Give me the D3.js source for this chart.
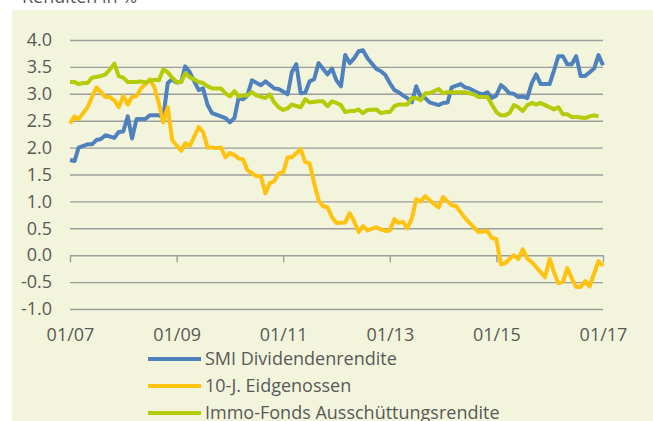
<!DOCTYPE html>
<html lang="de">
<head>
<meta charset="UTF-8">
<title>Renditen</title>
<script src="https://d3js.org/d3.v7.min.js"></script>
<style>
  body { margin: 0; background: #fff; }
  text { font-family: "Open Sans", sans-serif; fill: #595959; }
</style>
</head>
<body>
<script>
// --- data ---
var smiDates = ["2007-01","2007-02","2007-03","2007-05","2007-06","2007-07","2007-08","2007-09","2007-11","2007-12",
  "2008-01","2008-02","2008-03","2008-04","2008-06","2008-07","2008-09","2008-10","2008-11","2008-12",
  "2009-01","2009-02","2009-03","2009-04","2009-06","2009-07","2009-08","2009-09","2009-11","2009-12",
  "2010-01","2010-02","2010-03","2010-04","2010-05","2010-06","2010-08","2010-09","2010-11","2010-12",
  "2011-02","2011-03","2011-04","2011-05","2011-06","2011-07","2011-08","2011-09","2011-11","2011-12",
  "2012-01","2012-02","2012-03","2012-04","2012-05","2012-06","2012-07","2012-08","2012-10","2012-11","2012-12",
  "2013-01","2013-02","2013-03","2013-04","2013-05","2013-06","2013-07","2013-08","2013-09","2013-10","2013-12",
  "2014-01","2014-02","2014-03","2014-05","2014-06","2014-07","2014-09","2014-10","2014-11","2014-12",
  "2015-01","2015-02","2015-03","2015-04","2015-05","2015-06","2015-07","2015-08","2015-09","2015-10","2015-11",
  "2016-01","2016-02","2016-03","2016-04","2016-05","2016-06","2016-07","2016-08","2016-09","2016-10","2016-11","2016-12",
  "2017-01"];
var smiValues = [1.77,1.75,2.00,2.06,2.06,2.14,2.16,2.23,2.18,2.29,
  2.30,2.58,2.17,2.53,2.53,2.60,2.60,2.56,3.20,3.27,
  3.21,3.22,3.51,3.40,3.07,3.10,2.79,2.64,2.58,2.55,
  2.47,2.55,2.92,2.90,2.97,3.25,3.16,3.23,3.10,3.09,
  2.99,3.40,3.55,3.01,3.02,3.23,3.27,3.57,3.36,3.47,
  3.25,3.14,3.72,3.57,3.66,3.79,3.81,3.66,3.46,3.42,3.35,
  3.20,3.07,3.03,2.97,2.92,2.84,3.14,2.94,2.92,2.84,2.79,
  2.83,2.84,3.12,3.18,3.12,3.10,3.01,2.99,3.03,2.92,
  2.97,3.16,3.10,3.01,3.00,2.94,2.95,2.92,3.20,3.36,3.18,
  3.18,3.44,3.70,3.70,3.55,3.55,3.70,3.33,3.33,3.40,3.47,3.72,
  3.53];

var bondDates = ["2007-01","2007-02","2007-03","2007-05","2007-06","2007-07","2007-08","2007-09","2007-10","2007-11","2007-12",
  "2008-01","2008-02","2008-03","2008-04","2008-05","2008-06","2008-07","2008-08","2008-09","2008-10","2008-11","2008-12",
  "2009-01","2009-02","2009-03","2009-04","2009-06","2009-07","2009-08","2009-09","2009-10","2009-11","2009-12",
  "2010-01","2010-02","2010-03","2010-04","2010-05","2010-07","2010-08","2010-09","2010-10","2010-11","2010-12",
  "2011-01","2011-02","2011-03","2011-05","2011-06","2011-07","2011-08","2011-09","2011-10","2011-11","2011-12",
  "2012-01","2012-03","2012-04","2012-05","2012-06","2012-07","2012-08","2012-10","2012-11","2012-12",
  "2013-01","2013-02","2013-03","2013-04","2013-05","2013-06","2013-07","2013-08","2013-09","2013-10","2013-12",
  "2014-01","2014-02","2014-03","2014-04","2014-06","2014-07","2014-09","2014-11","2014-12",
  "2015-01","2015-02","2015-03","2015-04","2015-05","2015-06","2015-07","2015-08","2015-09","2015-10","2015-12",
  "2016-01","2016-02","2016-03","2016-04","2016-05","2016-06","2016-07","2016-08","2016-09","2016-10","2016-11","2016-12",
  "2017-01"];
var bondValues = [2.45,2.58,2.53,2.75,2.94,3.12,3.03,2.94,2.94,2.88,2.75,
  2.96,2.80,2.94,2.96,3.10,3.18,3.27,3.12,2.82,2.47,2.75,2.14,
  2.04,1.94,2.08,2.03,2.38,2.29,2.00,2.00,1.99,2.00,1.82,
  1.90,1.86,1.80,1.78,1.58,1.47,1.47,1.15,1.34,1.38,1.52,
  1.54,1.82,1.82,1.97,1.73,1.71,1.34,1.02,0.91,0.89,0.71,
  0.60,0.61,0.78,0.63,0.43,0.54,0.46,0.52,0.48,0.45,
  0.46,0.67,0.60,0.62,0.50,0.69,1.04,1.00,1.10,1.02,0.89,
  1.08,1.00,0.93,0.91,0.69,0.60,0.43,0.45,0.32,
  0.30,-0.17,-0.15,-0.07,0.00,-0.07,0.11,-0.06,-0.13,-0.22,-0.41,
  -0.07,-0.32,-0.52,-0.50,-0.24,-0.43,-0.59,-0.59,-0.48,-0.58,-0.34,-0.11,
  -0.20];

var immoDates = ["2007-01","2007-02","2007-03","2007-04","2007-05","2007-06","2007-08","2007-09","2007-10","2007-11","2007-12",
  "2008-01","2008-02","2008-04","2008-05","2008-06","2008-07","2008-08","2008-09","2008-10","2008-11","2008-12",
  "2009-01","2009-02","2009-03","2009-04","2009-06","2009-07","2009-08","2009-09","2009-11","2009-12",
  "2010-01","2010-02","2010-03","2010-04","2010-05","2010-06","2010-07","2010-09","2010-10","2010-11","2010-12",
  "2011-01","2011-02","2011-03","2011-05","2011-06","2011-07","2011-09","2011-10","2011-11","2011-12",
  "2012-01","2012-02","2012-03","2012-04","2012-05","2012-06","2012-07","2012-08","2012-10","2012-11","2012-12",
  "2013-01","2013-02","2013-03","2013-05","2013-06","2013-07","2013-08","2013-09","2013-10","2013-12",
  "2014-01","2014-02","2014-04","2014-06","2014-08","2014-09","2014-11","2014-12",
  "2015-01","2015-02","2015-03","2015-04","2015-05","2015-06","2015-07","2015-08","2015-09","2015-10","2015-11","2015-12",
  "2016-01","2016-02","2016-03","2016-04","2016-05","2016-06","2016-07","2016-09","2016-10","2016-11","2016-12"];
var immoValues = [3.22,3.22,3.18,3.20,3.20,3.30,3.33,3.36,3.45,3.56,3.33,
  3.30,3.22,3.22,3.23,3.21,3.24,3.26,3.25,3.45,3.40,3.30,
  3.22,3.22,3.38,3.31,3.22,3.20,3.14,3.10,3.10,3.01,
  2.95,3.05,2.95,2.97,2.97,3.03,2.97,2.92,2.99,2.84,2.75,
  2.70,2.73,2.80,2.75,2.90,2.84,2.86,2.86,2.77,2.86,
  2.83,2.79,2.66,2.68,2.68,2.71,2.64,2.70,2.71,2.64,2.66,
  2.66,2.77,2.80,2.80,2.92,2.92,2.88,3.01,3.01,3.09,
  3.01,3.03,3.03,3.03,2.99,2.94,2.94,2.80,
  2.66,2.60,2.60,2.64,2.79,2.75,2.68,2.79,2.83,2.80,2.83,2.79,
  2.75,2.71,2.75,2.62,2.62,2.57,2.57,2.55,2.58,2.60,2.58];

var seriesNames = ["SMI Dividendenrendite", "10-J. Eidgenossen", "Immo-Fonds Ausschüttungsrendite"];
var seriesColors = ["#4f81bd", "#ffc20e", "#b5cb05"];
var yTicks = [-1.0, -0.5, 0.0, 0.5, 1.0, 1.5, 2.0, 2.5, 3.0, 3.5, 4.0];
var xTickLabels = ["2007-01", "2009-01", "2011-01", "2013-01", "2015-01", "2017-01"];

var parse = d3.timeParse("%Y-%m");
function toPoints(dates, values) {
  return dates.map(function(d, i) { return { date: parse(d), value: values[i] }; });
}
var series = [
  toPoints(smiDates, smiValues),
  toPoints(bondDates, bondValues),
  toPoints(immoDates, immoValues)
];

var width = 653, height = 421;
var svg = d3.select("body").append("svg")
  .attr("width", width)
  .attr("height", height);

// pale panel
svg.append("rect")
  .attr("x", 12).attr("y", 10)
  .attr("width", width - 12).attr("height", height - 10)
  .attr("fill", "#f2f5dc");

// title, cut off at the top edge
svg.append("text")
  .attr("x", 22).attr("y", 3)
  .style("font-size", "18px")
  .text("Renditen in %");

var x = d3.scaleTime()
  .domain([parse("2007-01"), parse("2017-01")])
  .range([70, 603]);
var y = d3.scaleLinear()
  .domain([-1, 4])
  .range([309, 40]);

// gridlines
var grid = svg.append("g")
  .attr("transform", "translate(70,0)")
  .call(d3.axisLeft(y).tickValues(yTicks).tickSize(-533).tickFormat(""));
grid.select(".domain").remove();
grid.selectAll("line").attr("stroke", "#9d9d9d").attr("stroke-width", 1.4);

// y labels
var yAxis = svg.append("g")
  .attr("transform", "translate(70,0)")
  .call(d3.axisLeft(y).tickValues(yTicks).tickSize(0).tickPadding(18)
    .tickFormat(function(d) { return d.toFixed(1); }));
yAxis.select(".domain").remove();
yAxis.selectAll("text").style("font-size", "18px").attr("fill", "#595959");

// x axis sits on the zero line
var xAxis = svg.append("g")
  .attr("transform", "translate(0," + y(0) + ")")
  .call(d3.axisBottom(x).tickValues(xTickLabels.map(parse)).tickSize(7).tickPadding(66)
    .tickFormat(d3.timeFormat("%m/%y")));
xAxis.select(".domain").remove();
xAxis.selectAll("line").attr("stroke", "#9d9d9d").attr("stroke-width", 1.4);
xAxis.selectAll("text").style("font-size", "18px").attr("fill", "#595959");

var line = d3.line()
  .x(function(d) { return x(d.date); })
  .y(function(d) { return y(d.value); });

// draw order: SMI, bonds, immo on top
[0, 1, 2].forEach(function(i) {
  svg.append("path")
    .attr("d", line(series[i]))
    .attr("fill", "none")
    .attr("stroke", seriesColors[i])
    .attr("stroke-width", 4)
    .attr("stroke-linejoin", "round");
});

// legend
var legend = svg.append("g");
seriesNames.forEach(function(name, i) {
  var ly = 359 + i * 27;
  legend.append("line")
    .attr("x1", 148).attr("x2", 201)
    .attr("y1", ly).attr("y2", ly)
    .attr("stroke", seriesColors[i])
    .attr("stroke-width", 4);
  legend.append("text")
    .attr("x", 205).attr("y", ly)
    .attr("dy", "0.35em")
    .style("font-size", "18px")
    .text(name);
});
</script>
</body>
</html>
